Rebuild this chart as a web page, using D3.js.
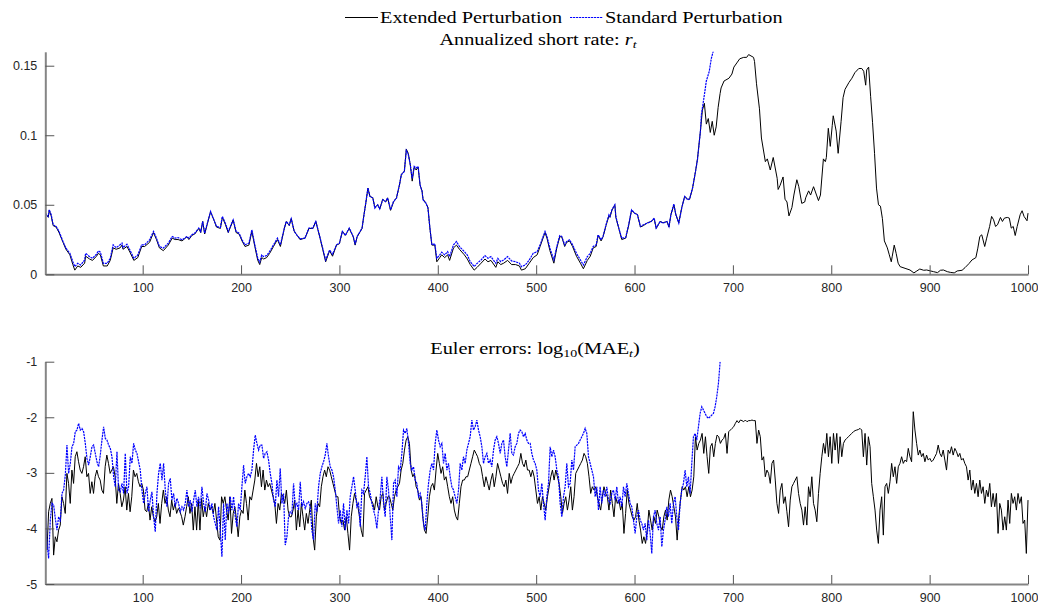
<!DOCTYPE html>
<html>
<head>
<meta charset="utf-8">
<script src="https://cdn.jsdelivr.net/npm/d3@7"></script>
<style>
  body { margin: 0; background: #fff; }
  svg { display: block; }
  .axis .tick text { font-family: "Liberation Sans", Arial, sans-serif; font-size: 12.5px; fill: #262626; }
  .axis .domain { stroke: #858585; stroke-width: 2; }
  .axis .tick line { stroke: #555; stroke-width: 1; }
  .title { font-family: "Liberation Serif", "Times New Roman", serif; font-size: 16px; fill: #000; }
</style>
</head>
<body>
<script>
const SERIES = ['Extended Perturbation', 'Standard Perturbation'];
const COLORS = ['#000000', '#0000ff'];
const X_TICKS = [100, 200, 300, 400, 500, 600, 700, 800, 900, 1000];
const RATE_TICKS = [0, 0.05, 0.1, 0.15];
const EE_TICKS = [-5, -4, -3, -2, -1];

// annualized short rate, [period, value]
const rateStd = [[1,.044],[4,.0416],[5,.0464],[7,.0428],[9,.0356],[12,.0344],[15,.0308],[19,.0236],[22,.0188],[26,.0151],[29,.0091],[31,.0055],[34,.0079],[37,.0067],[41,.0103],[42,.0151],[46,.0127],[49,.0115],[53,.0144],[55,.0168],[57,.0159],[60,.0079],[64,.0079],[67,.0115],[70,.0212],[73,.0192],[77,.0212],[79,.0224],[80,.0192],[84,.0216],[87,.0175],[91,.0115],[95,.0139],[99,.0212],[102,.0212],[107,.0248],[111,.0308],[114,.026],[117,.02],[121,.0188],[126,.0224],[130,.0272],[133,.026],[136,.0264],[140,.0248],[145,.0272],[147,.026],[150,.0284],[153,.0296],[157,.0332],[159,.0308],[161,.038],[163,.0296],[169,.0452],[173,.038],[175,.0344],[179,.0337],[181,.0416],[184,.0368],[187,.0308],[192,.0392],[195,.0308],[198,.0296],[201,.0248],[204,.0212],[208,.0224],[211,.032],[214,.0212],[217,.0115],[219,.0087],[221,.0139],[223,.0127],[226,.0135],[229,.0163],[233,.0212],[237,.026],[240,.0212],[244,.0332],[246,.038],[249,.0356],[251,.040],[254,.031],[257,.028],[260,.0255],[265,.026],[269,.0332],[273,.0332],[276,.038],[280,.0272],[283,.0188],[286,.0103],[290,.0175],[293,.0144],[297,.0212],[300,.0224],[303,.0308],[306,.028],[310,.0332],[314,.0272],[316,.0216],[318,.0272],[323,.0332],[325,.0428],[327,.0524],[329,.062],[331,.056],[334,.0548],[336,.0476],[339,.050],[341,.047],[344,.0536],[347,.0524],[349,.0548],[352,.0464],[355,.0524],[358,.0548],[361,.0644],[363,.0716],[366,.074],[368,.089],[370,.086],[372,.0789],[374,.069],[376,.0776],[378,.0764],[380,.0776],[382,.0644],[384,.0596],[385,.0536],[388,.0512],[390,.0476],[392,.0332],[394,.0212],[397,.0219],[399,.0115],[402,.0139],[404,.0159],[407,.0139],[410,.0163],[412,.0127],[416,.0212],[419,.0236],[422,.020],[427,.0163],[430,.0139],[433,.0091],[437,.0055],[440,.0079],[444,.0103],[448,.0135],[451,.0115],[454,.0127],[459,.0079],[461,.0115],[464,.0091],[467,.0103],[471,.0127],[475,.0096],[479,.0091],[483,.0079],[485,.0055],[489,.0067],[493,.0103],[497,.0151],[501,.0163],[504,.0212],[509,.0308],[511,.0272],[514,.0188],[518,.0103],[521,.020],[524,.0279],[526,.0272],[529,.0212],[531,.0236],[534,.0248],[537,.0212],[541,.0151],[545,.0103],[548,.0067],[552,.0127],[555,.0151],[558,.020],[561,.0212],[563,.0284],[566,.0248],[568,.0272],[571,.0356],[574,.0428],[575,.0416],[577,.0464],[580,.050],[581,.0416],[584,.0332],[587,.026],[591,.0264],[594,.0356],[597,.0464],[600,.044],[603,.0428],[606,.0344],[609,.0356],[613,.0368],[617,.038],[620,.0404],[622,.0332],[626,.038],[629,.0368],[633,.038],[635,.0344],[637,.0428],[640,.0505],[642,.0428],[645,.0368],[648,.0476],[651,.056],[654,.0536],[656,.0543],[659,.062],[662,.074],[664,.0825],[667,.103],[668,.115],[671,.129],[673,.139],[676,.146],[678,.155],[681,.163]];

const rateExt = [[1,.044],[4,.041],[5,.046],[7,.042],[9,.035],[12,.034],[15,.030],[19,.023],[22,.018],[26,.014],[29,.007],[31,.003],[34,.006],[37,.005],[41,.008],[42,.013],[46,.011],[49,.010],[53,.013],[55,.015],[57,.014],[60,.006],[64,.006],[67,.010],[70,.019],[73,.018],[77,.019],[79,.021],[80,.018],[84,.020],[87,.016],[91,.010],[95,.012],[99,.020],[102,.020],[107,.023],[111,.030],[114,.025],[117,.019],[121,.017],[126,.021],[130,.026],[133,.025],[136,.025],[140,.024],[145,.027],[147,.025],[150,.028],[153,.029],[157,.033],[159,.030],[161,.038],[163,.029],[169,.045],[173,.038],[175,.034],[179,.033],[181,.041],[184,.036],[187,.030],[192,.039],[195,.030],[198,.029],[201,.024],[204,.020],[208,.021],[211,.031],[214,.020],[217,.010],[219,.007],[221,.012],[223,.011],[226,.012],[229,.015],[233,.020],[237,.025],[240,.020],[244,.033],[246,.038],[249,.035],[251,.040],[254,.031],[257,.028],[260,.025],[265,.026],[269,.033],[273,.033],[276,.038],[280,.027],[283,.018],[286,.009],[290,.017],[293,.013],[297,.021],[300,.022],[303,.031],[306,.028],[310,.033],[314,.027],[316,.021],[318,.027],[323,.033],[325,.043],[327,.052],[329,.062],[331,.056],[334,.055],[336,.048],[339,.050],[341,.047],[344,.054],[347,.052],[349,.055],[352,.046],[355,.052],[358,.055],[361,.064],[363,.072],[366,.074],[368,.090],[370,.087],[372,.079],[374,.067],[376,.077],[378,.075],[380,.077],[382,.064],[384,.060],[385,.054],[388,.051],[390,.048],[392,.033],[394,.021],[397,.021],[399,.009],[402,.012],[404,.014],[407,.012],[410,.014],[412,.010],[416,.019],[419,.021],[422,.018],[427,.014],[430,.011],[433,.007],[437,.003],[440,.005],[444,.008],[448,.011],[451,.009],[454,.010],[459,.005],[461,.009],[464,.007],[467,.008],[471,.010],[475,.007],[479,.007],[483,.006],[485,.003],[489,.004],[493,.008],[497,.012],[501,.014],[504,.020],[509,.030],[511,.026],[514,.017],[518,.008],[521,.019],[524,.027],[526,.027],[529,.020],[531,.023],[534,.024],[537,.020],[541,.013],[545,.008],[548,.004],[552,.010],[555,.013],[558,.019],[561,.020],[563,.028],[566,.024],[568,.027],[571,.035],[574,.042],[575,.041],[577,.046],[580,.050],[581,.041],[584,.033],[587,.025],[591,.026],[594,.035],[597,.046],[600,.044],[603,.043],[606,.034],[609,.035],[613,.037],[617,.038],[620,.040],[622,.033],[626,.038],[629,.037],[633,.038],[635,.034],[637,.043],[640,.050],[642,.043],[645,.037],[648,.048],[651,.056],[654,.054],[656,.054],[659,.062],[662,.074],[664,.083],[667,.103],[669,.118],[671,.123],[673,.108],[675,.112],[677,.102],[679,.110],[681,.100],[683,.106],[685,.120],[687,.130],[688,.134],[691,.139],[696,.141],[699,.144],[701,.149],[704,.152],[707,.155],[711,.156],[714,.156],[716,.158],[721,.156],[722,.153],[724,.137],[727,.119],[729,.098],[733,.081],[735,.083],[738,.075],[741,.084],[745,.069],[746,.061],[748,.064],[751,.070],[753,.054],[755,.052],[757,.042],[760,.048],[762,.057],[765,.068],[767,.063],[770,.051],[773,.052],[774,.055],[777,.060],[779,.057],[782,.063],[785,.057],[787,.053],[789,.057],[792,.083],[794,.081],[795,.084],[797,.105],[799,.092],[801,.107],[802,.114],[805,.103],[807,.087],[810,.110],[812,.127],[814,.133],[818,.138],[821,.141],[824,.145],[828,.148],[831,.148],[833,.146],[835,.136],[836,.147],[838,.149],[840,.128],[842,.109],[844,.087],[846,.062],[848,.050],[850,.049],[852,.040],[854,.024],[857,.019],[859,.014],[861,.009],[862,.013],[864,.021],[866,.015],[868,.008],[870,.0055],[875,.0043],[880,.0031],[884,.001],[887,.0024],[890,.0038],[894,.0029],[897,.0031],[901,.0024],[904,.0019],[908,.0012],[911,.0029],[914,.0031],[918,.0019],[921,.0014],[925,.001],[928,.0024],[933,.0029],[936,.0048],[940,.0077],[943,.0103],[947,.012],[949,.0188],[951,.0272],[953,.0284],[956,.020],[958,.026],[961,.0344],[963,.0416],[965,.0392],[967,.0344],[969,.0356],[972,.0409],[974,.038],[976,.0404],[979,.0409],[981,.0404],[983,.0332],[985,.0344],[987,.0279],[989,.0344],[992,.0428],[994,.0457],[996,.0416],[999,.0385],[1000,.044]];

// Euler errors, log10(MAE), evenly spaced samples over each series' span of periods
const EE_EXT_SPAN = [1, 1000];
const EE_STD_SPAN = [1, 687];
const eeExt = [
-3.37,-4.39,-3.70,-3.55,-3.46,-4.48,-4.15,-4.24,-4.03,-3.94,-3.43,
-3.55,-3.73,-3.01,-3.19,-3.55,-2.95,-3.19,-2.71,-2.62,-2.80,
-2.95,-3.01,-2.89,-2.71,-3.07,-3.01,-3.37,-3.16,-3.37,-3.07,
-2.95,-3.07,-3.13,-3.31,-3.37,-2.89,-2.68,-2.83,-3.01,-2.95,
-2.89,-3.07,-3.55,-3.19,-3.37,-3.61,-3.49,-3.25,-3.67,-3.37,
-3.70,-3.43,-2.95,-3.07,-3.01,-3.16,-3.25,-3.19,-3.31,-3.67,
-3.70,-3.55,-3.85,-3.61,-3.79,-3.88,-3.79,-3.55,-3.91,-3.55,
-3.31,-3.55,-3.43,-3.67,-3.79,-3.49,-3.67,-3.55,-3.73,-3.64,
-3.70,-3.79,-3.94,-3.79,-3.61,-3.43,-3.73,-3.55,-4.03,-3.61,
-4.03,-3.49,-4.03,-3.46,-3.79,-3.61,-3.79,-3.55,-3.67,-3.61,
-3.73,-3.55,-3.85,-4.15,-4.21,-3.43,-3.55,-3.43,-3.67,-3.85,
-3.43,-4.09,-3.73,-3.61,-3.85,-4.15,-3.79,-3.67,-3.73,-3.31,
-3.55,-3.85,-3.43,-3.49,-3.31,-3.13,-2.83,-3.07,-2.89,-3.25,-2.95,
-3.31,-3.13,-3.25,-3.19,-3.31,-3.43,-3.55,-3.91,-3.55,-3.67,
-3.37,-3.43,-3.55,-3.31,-3.67,-3.79,-3.79,-3.67,-3.49,-4.03,
-3.67,-3.97,-3.55,-3.79,-4.03,-3.73,-3.91,-3.67,-3.49,-4.15,
-4.39,-3.79,-3.55,-3.61,-3.25,-3.07,-2.95,-3.07,-2.89,-2.95,
-3.07,-3.19,-3.31,-3.43,-3.43,-3.79,-3.91,-3.85,-4.03,-3.79,
-4.09,-4.39,-3.79,-3.55,-3.37,-3.49,-3.61,-3.79,-4.03,-4.15,
-3.37,-3.31,-3.25,-3.43,-3.49,-3.55,-3.67,-3.43,-3.61,-3.67,
-3.43,-3.37,-3.67,-3.55,-3.43,-3.43,-3.55,-3.67,-3.43,-3.31,
-3.25,-3.19,-2.95,-2.83,-2.59,-2.41,-2.35,-2.47,-2.95,-3.07,
-3.01,-3.25,-3.31,-3.49,-3.43,-3.79,-4.03,-4.09,-3.79,-3.43,
-3.25,-3.19,-3.31,-2.95,-2.65,-2.83,-3.01,-2.89,-3.13,-3.07,
-3.25,-3.43,-3.55,-3.43,-3.67,-3.79,-3.85,-3.55,-3.25,-3.13,
-3.13,-3.07,-3.07,-2.95,-2.83,-2.71,-2.59,-2.65,-2.71,-2.83,
-2.89,-3.07,-3.25,-3.07,-3.19,-3.31,-3.13,-3.01,-3.25,-3.07,
-2.83,-2.95,-3.07,-3.19,-3.25,-3.13,-3.37,-3.01,-3.19,
-3.07,-3.01,-2.95,-2.89,-2.83,-2.65,-2.83,-2.89,-2.77,-2.95,
-2.95,-3.07,-2.95,-3.07,-3.31,-3.55,-3.43,-3.67,-3.43,-3.55,
-3.67,-3.43,-3.25,-3.07,-2.95,-3.13,-2.95,-3.07,-3.19,-3.43,
-3.73,-3.55,-3.43,-3.67,-3.49,-3.25,-3.67,-3.43,-3.01,-2.95,
-2.89,-2.83,-2.77,-2.65,-2.71,-2.83,-3.07,-3.37,-3.25,-3.31,
-3.25,-3.43,-3.55,-3.67,-3.43,-3.25,-3.37,-3.43,-3.67,-3.31,
-3.55,-3.79,-3.43,-3.55,-3.49,-3.67,-3.55,-4.09,-3.73,-3.31,
-3.55,-3.67,-3.79,-3.85,-3.79,-3.55,-3.85,-4.03,-4.27,-4.15,
-4.27,-4.03,-3.67,-3.85,-4.03,-3.79,-3.91,-3.67,-3.79,-3.97,
-4.03,-3.79,-3.67,-3.85,-3.49,-3.31,-3.43,-3.61,-3.79,-4.21,
-3.79,-3.49,-3.25,-3.31,-3.25,-3.43,-3.25,-3.43,-3.31,-3.07,
-2.35,-2.59,-2.47,-2.41,-2.29,-2.65,-2.35,-2.71,-3.01,-2.53,
-2.47,-2.71,-2.47,-2.32,-2.35,-2.47,-2.41,-2.38,-2.29,-2.65,
-2.26,-2.23,-2.20,-2.17,-2.11,-2.06,-2.10,-2.05,-2.06,-2.08,
-2.05,-2.08,-2.06,-2.06,-2.05,-2.06,-2.06,-2.47,-2.23,-2.35,
-2.77,-2.71,-3.07,-2.95,-3.01,-3.19,-2.83,-2.77,-3.13,-3.55,
-3.73,-3.31,-3.19,-3.55,-3.43,-3.70,-3.97,-3.49,-3.25,-3.19,
-3.13,-3.07,-3.37,-3.55,-3.67,-3.94,-3.61,-3.94,-3.25,-3.43,
-3.07,-3.55,-3.67,-3.88,-3.37,-3.01,-2.71,-2.47,-2.65,-2.29,
-2.71,-2.35,-2.83,-2.29,-2.59,-2.29,-2.83,-2.35,-2.71,-2.47,
-2.41,-2.38,-2.35,-2.32,-2.29,-2.26,-2.24,-2.23,-2.22,-2.20,
-2.23,-2.71,-2.29,-2.86,-2.35,-2.53,-3.19,-3.43,-3.67,-4.03,
-4.27,-3.67,-3.43,-4.12,-3.25,-3.19,-3.37,-3.16,-2.83,-3.07,
-2.89,-3.19,-2.89,-2.83,-2.71,-2.83,-2.77,-2.80,-2.56,-2.71,
-2.80,-1.90,-2.23,-2.47,-2.68,-2.59,-2.71,-2.65,-2.80,-2.68,
-2.77,-2.74,-2.80,-2.77,-2.71,-2.65,-2.50,-2.65,-2.71,-2.59,
-2.77,-2.95,-2.59,-2.65,-2.53,-2.68,-2.56,-2.62,-2.71,-2.65,
-2.77,-2.74,-2.83,-2.89,-3.13,-2.95,-3.31,-3.13,-3.37,-3.19,
-3.43,-3.13,-3.37,-3.25,-3.55,-3.31,-3.43,-3.19,-3.61,-3.37,
-3.61,-3.37,-4.09,-3.55,-3.67,-4.03,-3.79,-4.03,-3.49,-3.91,
-3.37,-3.55,-3.43,-3.67,-3.37,-3.55,-3.43,-3.91,-3.85,-4.45,-3.49];

const eeStd = [
-3.37,-4.27,-4.54,-3.85,-3.55,-3.58,-3.82,-4.03,-3.79,-3.88,
-3.37,-3.31,-3.04,-2.50,-3.01,-2.83,-2.53,-2.47,-2.26,-2.23,
-2.11,-2.23,-2.20,-2.26,-2.47,-2.74,-2.86,-2.71,-2.53,-2.50,
-2.65,-2.80,-2.89,-2.68,-2.41,-2.17,-2.38,-2.41,-2.50,-2.56,
-2.71,-3.07,-3.25,-2.62,-3.31,-3.34,-3.19,-3.37,-2.65,-3.37,
-3.25,-2.71,-2.83,-2.47,-2.59,-2.65,-2.80,-2.95,-3.31,-3.55,
-3.37,-3.25,-3.70,-3.49,-3.34,-3.79,-4.06,-3.37,-3.01,-2.83,
-3.13,-2.83,-3.31,-3.61,-3.19,-3.10,-3.49,-3.37,-3.61,-3.46,
-3.55,-3.70,-3.61,-3.67,-3.55,-3.31,-3.61,-3.49,-3.70,-3.49,
-3.31,-3.61,-3.43,-3.64,-3.25,-3.55,-3.70,-3.37,-3.49,-3.67,
-3.55,-3.79,-3.91,-4.03,-3.61,-4.03,-4.51,-3.55,-4.21,-3.55,
-3.73,-3.43,-3.67,-3.43,-3.79,-3.97,-3.55,-3.67,-3.25,-2.86,
-3.19,-3.07,-3.01,-3.07,-2.95,-2.59,-2.32,-2.47,-2.59,-2.50,
-2.50,-2.74,-2.65,-2.62,-2.77,-3.01,-3.19,-3.49,-3.61,-3.13,
-3.43,-2.92,-3.55,-3.37,-4.30,-4.15,-3.79,-3.70,-3.73,-3.19,
-3.61,-3.55,-3.67,-3.16,-3.61,-3.52,-3.64,-3.55,-3.52,-3.61,
-4.03,-4.21,-3.55,-3.70,-3.25,-3.01,-2.89,-2.80,-2.68,-2.47,
-2.71,-2.89,-2.95,-3.07,-3.31,-3.61,-3.91,-3.67,-3.97,-3.55,
-4.03,-3.67,-3.91,-3.43,-3.25,-3.07,-3.31,-3.61,-3.55,-3.97,
-3.31,-3.37,-3.07,-2.71,-3.25,-3.37,-3.55,-3.67,-3.79,-4.00,
-3.67,-3.43,-3.07,-3.55,-3.79,-3.07,-3.31,-3.79,-4.21,-3.19,
-3.13,-3.43,-2.89,-2.95,-2.65,-2.23,-2.29,-2.20,-2.47,-2.83,
-2.95,-2.89,-3.13,-3.19,-3.43,-3.37,-3.55,-3.91,-4.03,-3.55,
-3.19,-2.95,-2.83,-2.95,-2.47,-2.23,-2.41,-2.53,-2.47,-2.83,
-2.65,-2.95,-2.83,-3.07,-3.25,-3.31,-3.43,-3.55,-3.31,-2.83,
-2.95,-2.71,-2.83,-2.59,-2.47,-2.35,-2.05,-2.23,-2.17,-2.05,
-2.23,-2.35,-2.53,-2.83,-2.71,-2.65,-2.83,-2.77,-2.89,-2.59,
-2.41,-2.35,-2.47,-2.65,-2.47,-2.41,-2.71,-2.89,-2.59,-2.29,
-2.65,-2.68,-2.53,-2.47,-2.29,-2.23,-2.26,-2.35,-2.29,-2.41,
-2.47,-2.47,-2.65,-2.77,-2.83,-2.95,-3.31,-3.43,-3.19,-3.55,
-3.85,-3.43,-3.19,-2.53,-2.71,-2.59,-2.71,-2.95,-3.07,-3.55,
-3.79,-3.43,-3.25,-2.83,-3.25,-3.19,-2.77,-2.95,-2.53,-2.50,
-2.47,-2.41,-2.35,-2.29,-2.20,-2.29,-2.71,-2.83,-2.95,-3.07,
-3.43,-3.25,-3.67,-3.25,-3.55,-3.31,-3.43,-3.25,-3.49,-3.55,
-3.37,-3.31,-3.49,-3.25,-3.55,-3.43,-3.61,-3.25,-3.43,-3.19,
-3.37,-3.55,-3.61,-3.85,-4.09,-3.79,-3.67,-3.85,-3.91,-4.03,
-3.91,-4.21,-3.85,-4.09,-4.45,-3.79,-3.67,-3.91,-4.03,-3.79,
-4.33,-4.03,-3.85,-3.61,-3.79,-3.55,-3.91,-3.55,-3.43,-3.79,
-4.03,-3.55,-3.31,-3.19,-2.95,-3.25,-3.07,-3.37,-2.83,-2.35,
-2.29,-2.41,-2.17,-1.93,-1.81,-1.87,-1.93,-1.99,-2.02,-1.99,
-1.96,-1.93,-1.81,-1.63,-1.39,-1.00];

const width = 1038;
const height = 604;
const TEXT_STRETCH = 1.27; // the serif titles are set wide, like Computer Modern

const x = d3.scaleLinear().domain([1, 1000]).range([45.3, 1028]);

const svg = d3.select('body').append('svg')
  .attr('width', width)
  .attr('height', height)
  .attr('viewBox', [0, 0, width, height]);

const line = yScale => d3.line().x(d => x(d[0])).y(d => yScale(d[1]));

// spread evenly spaced samples over a span of periods
const spread = (values, span) => {
  const idx = d3.scaleLinear().domain([0, values.length - 1]).range(span);
  return values.map((v, i) => [idx(i), v]);
};

const panel = (id, yScale, yTicks, yFormat, series) => {
  const g = svg.append('g').attr('id', id);
  const [y0, y1] = yScale.range();
  const [x0, x1] = x.range();

  g.append('clipPath')
    .attr('id', 'clip-' + id)
    .append('rect')
    .attr('x', x0)
    .attr('y', y1)
    .attr('width', x1 - x0 + 1)
    .attr('height', y0 - y1);

  g.append('g')
    .attr('clip-path', `url(#clip-${id})`)
    .selectAll('path')
    .data(series)
    .enter()
    .append('path')
    .attr('fill', 'none')
    .attr('stroke', (_, i) => COLORS[i])
    .attr('stroke-width', (_, i) => i ? 1.2 : 1)
    .attr('stroke-dasharray', (_, i) => i ? '2.2,0.8' : null)
    .attr('d', d => line(yScale)(d));

  const xAxis = g.append('g')
    .attr('class', 'axis')
    .attr('transform', `translate(0,${y0})`)
    .call(d3.axisBottom(x).tickValues(X_TICKS).tickFormat(d3.format('d'))
      .tickSizeInner(-9).tickSizeOuter(0).tickPadding(9));
  // last label is pulled in so it stays on the page
  xAxis.selectAll('.tick text').filter(d => d === 1000).attr('dx', -4);

  g.append('g')
    .attr('class', 'axis')
    .attr('transform', `translate(${x0},0)`)
    .call(d3.axisLeft(yScale).tickValues(yTicks).tickFormat(yFormat)
      .tickSizeInner(-9).tickSizeOuter(0).tickPadding(8));

  return g;
};

// top: short rate
const yRate = d3.scaleLinear().domain([0, 0.16]).range([274.3, 51.8]);
panel('rate', yRate, RATE_TICKS, d3.format('~g'), [rateExt, rateStd]);

// bottom: Euler errors
const yEE = d3.scaleLinear().domain([-5, -1]).range([584, 361.7]);
panel('euler', yEE, EE_TICKS, d => String(d), [spread(eeExt, EE_EXT_SPAN), spread(eeStd, EE_STD_SPAN)]);

// titles
const title = (cx, cy) => svg.append('text')
  .attr('class', 'title')
  .attr('text-anchor', 'middle')
  .attr('transform', `translate(${cx},${cy}) scale(${TEXT_STRETCH},1)`);

const t1 = title(538, 44.5);
t1.append('tspan').text('Annualized short rate: ');
t1.append('tspan').attr('font-style', 'italic').text('r');
t1.append('tspan').attr('font-style', 'italic').attr('font-size', 11).attr('dy', 3).text('t');

const t2 = title(535, 354);
t2.append('tspan').text('Euler errors: log');
t2.append('tspan').attr('font-size', 11).attr('dy', 3).text('10');
t2.append('tspan').attr('dy', -3).text('(MAE');
t2.append('tspan').attr('font-style', 'italic').attr('font-size', 11).attr('dy', 3).text('t');
t2.append('tspan').attr('dy', -3).text(')');

// legend
const legend = svg.append('g').attr('id', 'legend');
let lx = 345;
SERIES.forEach((name, i) => {
  legend.append('line')
    .attr('x1', lx).attr('x2', lx + 33)
    .attr('y1', 17.5).attr('y2', 17.5)
    .attr('stroke', COLORS[i])
    .attr('stroke-width', i ? 1.2 : 1)
    .attr('stroke-dasharray', i ? '2.2,0.8' : null);
  const txt = legend.append('text')
    .attr('class', 'title')
    .attr('transform', `translate(${lx + 35},23) scale(${TEXT_STRETCH},1)`)
    .text(name);
  lx += 35 + txt.node().getComputedTextLength() * TEXT_STRETCH + 8;
});
</script>
</body>
</html>
